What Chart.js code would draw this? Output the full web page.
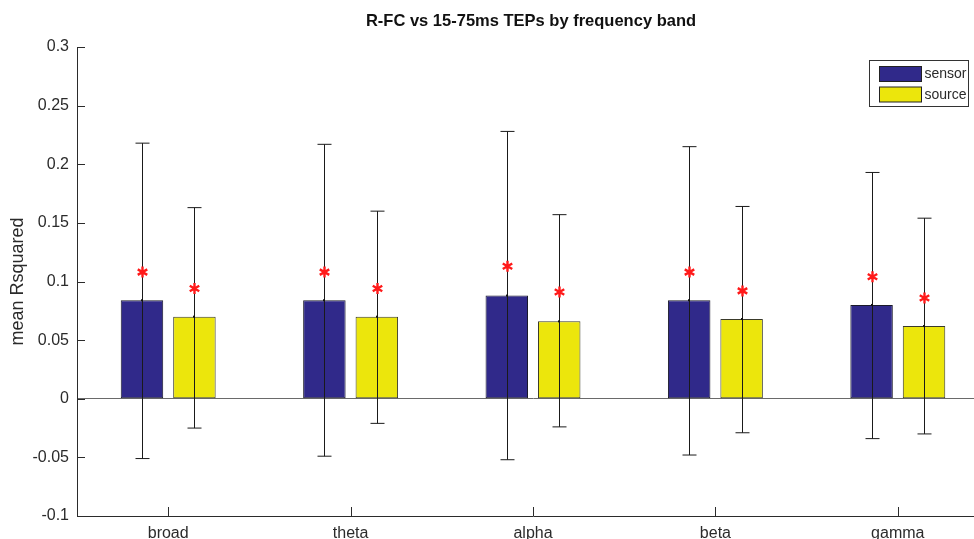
<!DOCTYPE html>
<html>
<head>
<meta charset="utf-8">
<script src="https://cdn.jsdelivr.net/npm/chart.js@4/dist/chart.umd.min.js"></script>
<style>
  html, body { margin: 0; padding: 0; background: #fff; overflow: hidden; }
  #wrap { width: 974px; height: 539px; overflow: hidden; }
</style>
</head>
<body>
<div id="wrap"><canvas id="chart" width="992" height="548"></canvas></div>
<script>
const categories = ['broad', 'theta', 'alpha', 'beta', 'gamma'];
const sensorMean = [0.084, 0.084, 0.088, 0.084, 0.080];
const sourceMean = [0.070, 0.070, 0.066, 0.068, 0.062];
const sensorErrLow = [-0.051, -0.049, -0.052, -0.048, -0.034];
const sensorErrHigh = [0.218, 0.217, 0.228, 0.215, 0.193];
const sourceErrLow = [-0.025, -0.021, -0.024, -0.029, -0.030];
const sourceErrHigh = [0.163, 0.160, 0.157, 0.164, 0.154];
const sensorStar = [0.108, 0.108, 0.113, 0.108, 0.104];
const sourceStar = [0.094, 0.094, 0.091, 0.092, 0.086];
const yTicks = [-0.1, -0.05, 0, 0.05, 0.1, 0.15, 0.2, 0.25, 0.3];
const yTickLabels = ['-0.1', '-0.05', '0', '0.05', '0.1', '0.15', '0.2', '0.25', '0.3'];
const chartTitle = 'R-FC vs 15-75ms TEPs by frequency band';

const textColor = '#2b2b2b';
const fontFamily = '"Liberation Sans", Arial, sans-serif';
const errLow = [sensorErrLow, sourceErrLow];
const errHigh = [sensorErrHigh, sourceErrHigh];
const stars = [sensorStar, sourceStar];

// error bars, asterisks, inward ticks, title and the boxed legend
const extras = {
    id: 'extras',
    afterDatasetsDraw(chart) {
        const ctx = chart.ctx;
        const y = chart.scales.y;
        ctx.save();
        for (let d = 0; d < 2; d++) {
            const meta = chart.getDatasetMeta(d);
            meta.data.forEach((bar, j) => {
                const x = Math.round(bar.x) + 0.5;
                const lo = y.getPixelForValue(errLow[d][j]);
                const hi = y.getPixelForValue(errHigh[d][j]);
                ctx.strokeStyle = '#1a1a1a';
                ctx.lineWidth = 1;
                ctx.beginPath();
                ctx.moveTo(x, lo); ctx.lineTo(x, hi);
                ctx.moveTo(x - 7, lo); ctx.lineTo(x + 7, lo);
                ctx.moveTo(x - 7, hi); ctx.lineTo(x + 7, hi);
                ctx.stroke();
                ctx.fillStyle = '#111';
                ctx.fillRect(x - 1.5, bar.y - 1, 2, 2);

                // red asterisk
                const sy = y.getPixelForValue(stars[d][j]);
                ctx.strokeStyle = '#ff1a1a';
                ctx.lineWidth = 2.4;
                ctx.beginPath();
                for (let k = 0; k < 3; k++) {
                    const a = Math.PI / 2 + k * Math.PI / 3;
                    ctx.moveTo(x + 5.5 * Math.cos(a), sy + 5.5 * Math.sin(a));
                    ctx.lineTo(x - 5.5 * Math.cos(a), sy - 5.5 * Math.sin(a));
                }
                ctx.stroke();
            });
        }
        ctx.restore();
    },
    afterDraw(chart) {
        const ctx = chart.ctx;
        const area = chart.chartArea;
        const xs = chart.scales.x;
        const ys = chart.scales.y;
        ctx.save();
        ctx.strokeStyle = textColor;
        ctx.lineWidth = 1;
        ctx.beginPath();
        ys.ticks.forEach((t, i) => {
            const py = Math.round(ys.getPixelForTick(i)) + 0.5;
            ctx.moveTo(area.left, py); ctx.lineTo(area.left + 8, py);
        });
        xs.ticks.forEach((t, i) => {
            const px = Math.round(xs.getPixelForTick(i)) + 0.5;
            ctx.moveTo(px, area.bottom); ctx.lineTo(px, area.bottom - 9);
        });
        ctx.stroke();

        // title, centred over the axes
        ctx.fillStyle = '#111';
        ctx.font = 'bold 16.5px ' + fontFamily;
        ctx.textAlign = 'center';
        ctx.textBaseline = 'middle';
        ctx.fillText(chartTitle, (area.left + area.right) / 2 - 2, 21);

        // legend
        const bx = area.right - 119.5, by = area.top + 13.5;
        ctx.textAlign = 'left';
        ctx.fillStyle = '#fff';
        ctx.fillRect(bx, by, 99, 46);
        ctx.strokeStyle = '#333';
        ctx.strokeRect(bx, by, 99, 46);
        chart.data.datasets.forEach((ds, i) => {
            const ry = by + 6 + i * 20.5;
            ctx.fillStyle = ds.backgroundColor;
            ctx.fillRect(bx + 10, ry, 42, 15);
            ctx.strokeStyle = '#222';
            ctx.strokeRect(bx + 10, ry, 42, 15);
            ctx.fillStyle = textColor;
            ctx.font = '14px ' + fontFamily;
            ctx.textBaseline = 'middle';
            ctx.fillText(ds.label, bx + 55, ry + 8);
        });
        ctx.restore();
    }
};

new Chart(document.getElementById('chart'), {
    type: 'bar',
    data: {
        labels: categories,
        datasets: [{
            label: 'sensor',
            data: sensorMean,
            backgroundColor: '#30298a',
            borderColor: '#1a1a2a',
            borderWidth: 1,
            borderSkipped: false,
            categoryPercentage: 0.575,
            barPercentage: 0.81
        }, {
            label: 'source',
            data: sourceMean,
            backgroundColor: '#ece60c',
            borderColor: '#3a3a2a',
            borderWidth: 1,
            borderSkipped: false,
            categoryPercentage: 0.575,
            barPercentage: 0.81
        }]
    },
    options: {
        responsive: false,
        animation: false,
        devicePixelRatio: 1,
        layout: { padding: { left: 0, right: 3, top: 47, bottom: 0 } },
        plugins: {
            legend: { display: false },
            tooltip: { enabled: false },
            title: { display: false }
        },
        scales: {
            x: {
                grid: { display: false, drawTicks: false },
                border: { display: true, color: textColor, width: 1 },
                ticks: {
                    color: textColor,
                    padding: 8,
                    font: { family: fontFamily, size: 16 }
                },
                afterFit(s) { s.height = 32; }
            },
            y: {
                min: -0.1,
                max: 0.3,
                afterBuildTicks(s) { s.ticks = yTicks.map(v => ({ value: v })); },
                grid: {
                    drawTicks: false,
                    color: c => (c.tick && c.tick.value === 0 ? '#6a6a6a' : 'rgba(0,0,0,0)')
                },
                border: { display: true, color: textColor, width: 1 },
                ticks: {
                    color: textColor,
                    padding: 8,
                    font: { family: fontFamily, size: 16 },
                    callback: (v, i) => yTickLabels[i]
                },
                title: {
                    display: true,
                    text: 'mean Rsquared',
                    color: textColor,
                    font: { family: fontFamily, size: 18 },
                    padding: { top: 7, bottom: 0 }
                },
                afterFit(s) { s.width = 77; }
            }
        }
    },
    plugins: [extras]
});
</script>
</body>
</html>
